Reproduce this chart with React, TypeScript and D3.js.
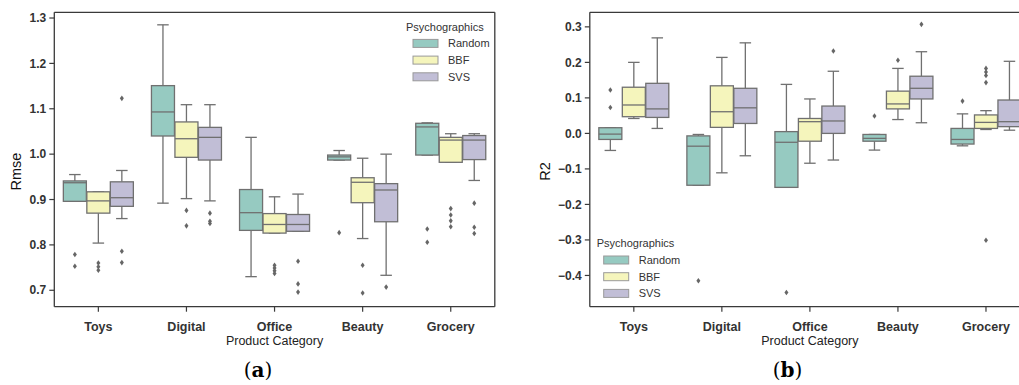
import React from "react";
import * as d3 from "d3";

const categories = ["Toys", "Digital", "Office", "Beauty", "Grocery"];
const seriesNames = ["Random", "BBF", "SVS"];
const seriesColors = ["#96cac1", "#f5f5bc", "#c1bed6"];

// stats per category: [whiskerLow, q1, median, q3, whiskerHigh]
const rmseRandom = [
  [0.896, 0.896, 0.937, 0.941, 0.955],
  [0.892, 1.04, 1.093, 1.151, 1.285],
  [0.73, 0.832, 0.871, 0.922, 1.037],
  [0.987, 0.987, 0.994, 0.998, 1.008],
  [0.998, 0.998, 1.06, 1.068, 1.069],
];
const rmseBBF = [
  [0.804, 0.87, 0.897, 0.917, 0.917],
  [0.902, 0.993, 1.034, 1.071, 1.109],
  [0.826, 0.826, 0.845, 0.869, 0.906],
  [0.814, 0.893, 0.938, 0.948, 0.991],
  [0.982, 0.982, 1.031, 1.037, 1.045],
];
const rmseSVS = [
  [0.858, 0.885, 0.904, 0.939, 0.964],
  [0.897, 0.987, 1.037, 1.059, 1.109],
  [0.83, 0.83, 0.845, 0.867, 0.912],
  [0.733, 0.851, 0.921, 0.935, 1.0],
  [0.942, 0.988, 1.031, 1.041, 1.045],
];
const rmseRandomOut = [[0.779, 0.753], [], [], [0.827], [0.835, 0.806]];
const rmseBBFOut = [[0.76, 0.752, 0.744], [0.876, 0.842], [0.755, 0.749, 0.743, 0.737], [0.755, 0.694], [0.88, 0.866, 0.853, 0.84]];
const rmseSVSOut = [[1.123, 0.786, 0.761], [0.87, 0.852, 0.847], [0.764, 0.714, 0.696], [0.707], [0.892, 0.839, 0.825]];
const rmseTicks = [0.7, 0.8, 0.9, 1.0, 1.1, 1.2, 1.3];

const r2Random = [
  [-0.048, -0.017, -0.002, 0.016, 0.016],
  [-0.146, -0.146, -0.036, -0.007, -0.003],
  [-0.152, -0.152, -0.025, 0.005, 0.138],
  [-0.047, -0.022, -0.014, -0.003, -0.003],
  [-0.035, -0.03, -0.017, 0.014, 0.055],
];
const r2BBF = [
  [0.042, 0.047, 0.08, 0.13, 0.2],
  [-0.111, 0.017, 0.061, 0.134, 0.214],
  [-0.084, -0.022, 0.033, 0.042, 0.097],
  [0.039, 0.069, 0.083, 0.119, 0.183],
  [0.011, 0.014, 0.031, 0.052, 0.064],
];
const r2SVS = [
  [0.014, 0.045, 0.069, 0.141, 0.269],
  [-0.063, 0.028, 0.072, 0.127, 0.255],
  [-0.075, 0.0, 0.035, 0.077, 0.175],
  [0.03, 0.097, 0.127, 0.161, 0.23],
  [0.009, 0.019, 0.033, 0.094, 0.203],
];
const r2RandomOut = [[0.122, 0.073], [-0.415], [-0.448], [0.049], [0.091]];
const r2BBFOut = [[], [], [], [0.206], [0.183, 0.173, 0.163, 0.143, -0.301]];
const r2SVSOut = [[], [], [0.232], [0.307], []];
const r2Ticks = [-0.4, -0.3, -0.2, -0.1, 0.0, 0.1, 0.2, 0.3];

const LINE = "#707070";
const FRAME = "#3a3a3a";
const FONT = "Liberation Sans, Arial, sans-serif";

type PanelProps = {
  x0: number;
  x1: number;
  domain: [number, number];
  ticks: number[];
  stats: number[][][];
  outliers: number[][][];
  yLabel: string;
  yLabelOffset: number;
  rightFrame: boolean;
  legend: { x: number; y: number };
  panelLabel: string;
  labelX: number;
};

const TOP = 12.3;
const BOTTOM = 306.7;

function Panel(p: PanelProps) {
  const x = d3.scaleBand<string>().domain(categories).range([p.x0, p.x1]).padding(0);
  const y = d3.scaleLinear().domain(p.domain).range([BOTTOM, TOP]);
  const bw = x.bandwidth();
  const boxW = (bw * 0.8) / 3;
  const diamond = (cx: number, cy: number) =>
    `M${cx},${cy - 2.8}L${cx + 2},${cy}L${cx},${cy + 2.8}L${cx - 2},${cy}Z`;
  return (
    <g>
      {categories.map((c, ci) =>
        seriesNames.map((s, si) => {
          const [lo, q1, med, q3, hi] = p.stats[si][ci];
          const cx = (x(c) as number) + bw / 2 + (si - 1) * boxW;
          const w = boxW * 0.98;
          return (
            <g key={c + s}>
              <line x1={cx} x2={cx} y1={y(q3)} y2={y(hi)} stroke={LINE} strokeWidth={1.3} />
              <line x1={cx} x2={cx} y1={y(q1)} y2={y(lo)} stroke={LINE} strokeWidth={1.3} />
              <line x1={cx - w / 4} x2={cx + w / 4} y1={y(hi)} y2={y(hi)} stroke={LINE} strokeWidth={1.3} />
              <line x1={cx - w / 4} x2={cx + w / 4} y1={y(lo)} y2={y(lo)} stroke={LINE} strokeWidth={1.3} />
              <rect
                x={cx - w / 2}
                y={y(q3)}
                width={w}
                height={Math.max(0.5, y(q1) - y(q3))}
                fill={seriesColors[si]}
                stroke={LINE}
                strokeWidth={1.3}
              />
              <line x1={cx - w / 2} x2={cx + w / 2} y1={y(med)} y2={y(med)} stroke={LINE} strokeWidth={1.3} />
              {p.outliers[si][ci].map((v, k) => (
                <path key={k} d={diamond(cx, y(v))} fill="#666" />
              ))}
            </g>
          );
        })
      )}
      <line x1={p.x0} x2={p.x0} y1={TOP} y2={BOTTOM} stroke={FRAME} strokeWidth={1.3} />
      <line x1={p.x0} x2={Math.min(p.x1, 1019)} y1={TOP} y2={TOP} stroke={FRAME} strokeWidth={1.3} />
      <line x1={p.x0} x2={Math.min(p.x1, 1019)} y1={BOTTOM} y2={BOTTOM} stroke={FRAME} strokeWidth={1.3} />
      {p.rightFrame && <line x1={p.x1} x2={p.x1} y1={TOP} y2={BOTTOM} stroke={FRAME} strokeWidth={1.3} />}
      {p.ticks.map((t) => (
        <g key={t} transform={`translate(${p.x0},${y(t)})`}>
          <line x1={-5} x2={0} stroke={FRAME} strokeWidth={1.2} />
          <text x={-8} dy="0.35em" textAnchor="end" fontSize={12} fontWeight="bold" fill="#333" fontFamily={FONT}>
            {d3.format(".1f")(t)}
          </text>
        </g>
      ))}
      {categories.map((c) => (
        <g key={c} transform={`translate(${(x(c) as number) + bw / 2},${BOTTOM})`}>
          <line y1={0} y2={5} stroke={FRAME} strokeWidth={1.2} />
          <text y={24} textAnchor="middle" fontSize={12.5} fontWeight="bold" fill="#333" fontFamily={FONT}>
            {c}
          </text>
        </g>
      ))}
      <text
        x={(x(categories[2]) as number) + bw / 2}
        y={345}
        textAnchor="middle"
        fontSize={12.5}
        fill="#222"
        fontFamily={FONT}
      >
        Product Category
      </text>
      <text
        transform={`translate(${p.x0 - p.yLabelOffset},${(TOP + BOTTOM) / 2 + 12}) rotate(-90)`}
        textAnchor="middle"
        fontSize={14.5}
        fill="#111"
        fontFamily={FONT}
      >
        {p.yLabel}
      </text>
      <g transform={`translate(${p.legend.x},${p.legend.y})`}>
        <text x={0} y={0} dy="0.35em" fontSize={11} fill="#333" fontFamily={FONT}>
          Psychographics
        </text>
        {seriesNames.map((s, i) => (
          <g key={s} transform={`translate(0,${16.7 * (i + 1)})`}>
            <rect x={7} y={-4} width={25} height={8} fill={seriesColors[i]} stroke="#999" strokeWidth={1} />
            <text x={42} dy="0.35em" fontSize={11} fill="#333" fontFamily={FONT}>
              {s}
            </text>
          </g>
        ))}
      </g>
      <text x={p.labelX} y={377} textAnchor="middle" fontSize={20} fill="#000" fontFamily="DejaVu Serif, Liberation Serif, serif">
        (<tspan fontWeight="bold">{p.panelLabel}</tspan>)
      </text>
    </g>
  );
}

export default function App() {
  return (
    <svg width={1019} height={385} style={{ position: "absolute", left: 0, top: 0, background: "#fff" }}>
      <Panel
        x0={54.3}
        x1={494.8}
        domain={[0.6638, 1.3126]}
        ticks={rmseTicks}
        stats={[rmseRandom, rmseBBF, rmseSVS]}
        outliers={[rmseRandomOut, rmseBBFOut, rmseSVSOut]}
        yLabel="Rmse"
        yLabelOffset={33}
        rightFrame={true}
        legend={{ x: 406, y: 26.7 }}
        panelLabel="a"
        labelX={258}
      />
      <Panel
        x0={589.8}
        x1={1030}
        domain={[-0.488, 0.341]}
        ticks={r2Ticks}
        stats={[r2Random, r2BBF, r2SVS]}
        outliers={[r2RandomOut, r2BBFOut, r2SVSOut]}
        yLabel="R2"
        yLabelOffset={40}
        rightFrame={false}
        legend={{ x: 596.7, y: 243.3 }}
        panelLabel="b"
        labelX={787.5}
      />
    </svg>
  );
}
